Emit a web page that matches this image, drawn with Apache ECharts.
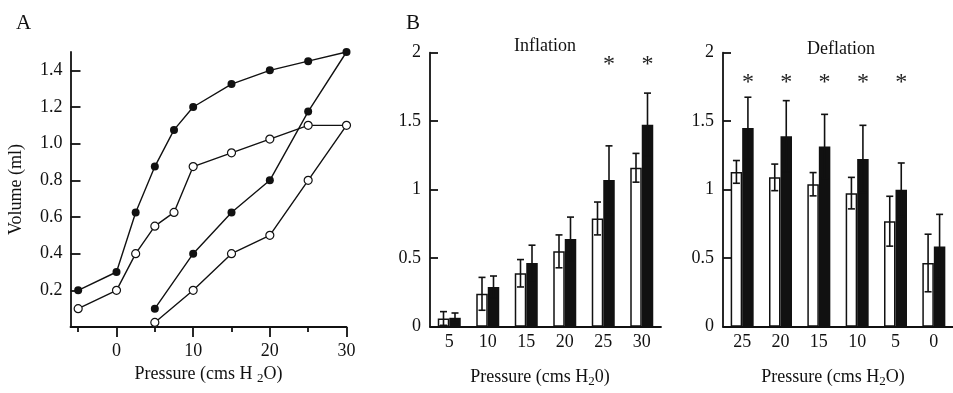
<!DOCTYPE html>
<html>
<head>
<meta charset="utf-8">
<script src="https://cdn.jsdelivr.net/npm/echarts@6/dist/echarts.min.js"></script>
<style>
  html, body { margin: 0; padding: 0; background: #fff; }
  #chart { width: 953px; height: 393px; }
</style>
</head>
<body>
<div id="chart"></div>
<script>
// Panel A: pressure-volume loops
const aPressure = [-5, 0, 2.5, 5, 7.5, 10, 15, 20, 25, 30, 25, 20, 15, 10, 5];
const aFilledVolume = [0.2, 0.3, 0.625, 0.875, 1.075, 1.2, 1.325, 1.4, 1.45, 1.5, 1.175, 0.8, 0.625, 0.4, 0.1];
const aOpenVolume = [0.1, 0.2, 0.4, 0.55, 0.625, 0.875, 0.95, 1.025, 1.1, 1.1, 0.8, 0.5, 0.4, 0.2, 0.025];
const aYTicks = [0.2, 0.4, 0.6, 0.8, 1.0, 1.2, 1.4];
const aXMajor = [0, 10, 20, 30];
const aXMinor = [-5, 5, 15, 25];

// Panel B: inflation
const inflationCats = ['5', '10', '15', '20', '25', '30'];
const inflationOpen = [0.06, 0.24, 0.39, 0.55, 0.79, 1.16];
const inflationOpenSd = [0.05, 0.12, 0.10, 0.12, 0.12, 0.105];
const inflationFilled = [0.065, 0.29, 0.465, 0.64, 1.07, 1.475];
const inflationFilledSd = [0.035, 0.08, 0.13, 0.16, 0.25, 0.23];
const inflationSig = [0, 0, 0, 0, 1, 1];

// Panel B: deflation
const deflationCats = ['25', '20', '15', '10', '5', '0'];
const deflationOpen = [1.13, 1.09, 1.04, 0.975, 0.77, 0.465];
const deflationOpenSd = [0.083, 0.097, 0.085, 0.115, 0.182, 0.21];
const deflationFilled = [1.45, 1.39, 1.315, 1.225, 1.0, 0.585];
const deflationFilledSd = [0.225, 0.26, 0.235, 0.245, 0.195, 0.235];
const deflationSig = [1, 1, 1, 1, 1, 0];

const FONT = 'Liberation Serif, DejaVu Serif, serif';
const INK = '#111';
const BAR_W = 11.5;
const CAP = 7;

const pairs = (xs, ys) => xs.map((x, i) => [x, ys[i]]);

const errRows = (open, openSd, filled, filledSd, sig) =>
    open.map((v, i) => [i, v, openSd[i], filled[i], filledSd[i], sig[i]]);

const errorBars = (starValue) => (params, api) => {
    const i = api.value(0);
    const cx = api.coord([i, 0])[0];
    const children = [];
    const bar = (x, mean, sd) => {
        const top = api.coord([i, mean + sd])[1];
        const bot = api.coord([i, mean - sd])[1];
        const st = { stroke: INK, lineWidth: 1.6 };
        children.push({ type: 'line', shape: { x1: x, y1: top, x2: x, y2: bot }, style: st });
        children.push({ type: 'line', shape: { x1: x - CAP / 2, y1: top, x2: x + CAP / 2, y2: top }, style: st });
        children.push({ type: 'line', shape: { x1: x - CAP / 2, y1: bot, x2: x + CAP / 2, y2: bot }, style: st });
    };
    bar(cx - BAR_W / 2, api.value(1), api.value(2));
    bar(cx + BAR_W / 2, api.value(3), api.value(4));
    if (api.value(5)) {
        children.push({
            type: 'text',
            style: {
                text: '*', x: cx + BAR_W / 2, y: api.coord([i, starValue])[1],
                fill: '#222', font: '24px ' + FONT, align: 'center', verticalAlign: 'middle'
            }
        });
    }
    return { type: 'group', children };
};

const axisText = { fontFamily: FONT, fontSize: 18, color: INK };
const lineStyle = { color: INK, width: 1.8 };

const bYAxis = (gridIndex) => ({
    type: 'value', gridIndex, min: 0, max: 2, interval: 0.5,
    axisLine: { show: true, onZero: false, lineStyle },
    axisTick: { show: true, inside: true, length: 8, lineStyle },
    axisLabel: Object.assign({ margin: 9 }, axisText),
    splitLine: { show: false }
});

const bXAxis = (gridIndex, cats) => ({
    type: 'category', gridIndex, data: cats,
    axisLine: { show: true, onZero: false, lineStyle },
    axisTick: { show: false },
    axisLabel: Object.assign({ margin: 7 }, axisText)
});

const bBars = (xIdx, yIdx, open, filled) => [
    {
        type: 'bar', xAxisIndex: xIdx, yAxisIndex: yIdx, data: open,
        barWidth: BAR_W, barGap: '0%',
        itemStyle: { color: '#fff', borderColor: INK, borderWidth: 1.5 }
    },
    {
        type: 'bar', xAxisIndex: xIdx, yAxisIndex: yIdx, data: filled,
        barWidth: BAR_W, barGap: '0%',
        itemStyle: { color: INK }
    }
];

const rich = {
    sub: { fontFamily: FONT, fontSize: 13, color: INK, fontWeight: 'normal', padding: [9, 0, 0, 0] }
};
const nameStyle = { fontFamily: FONT, fontSize: 18, fontWeight: 'normal', color: INK, rich };
const titleStyle = (size) => ({ fontFamily: FONT, fontSize: size, fontWeight: 'normal', color: INK });

const chart = echarts.init(document.getElementById('chart'));
chart.setOption({
    animation: false,
    backgroundColor: '#fff',
    title: [
        { text: 'A', left: 11, top: 8, textStyle: titleStyle(21) },
        { text: 'B', left: 401, top: 8, textStyle: titleStyle(21) },
        { text: 'Inflation', left: 540, top: 32, textAlign: 'center', textStyle: titleStyle(18) },
        { text: 'Deflation', left: 836, top: 35, textAlign: 'center', textStyle: titleStyle(18) },
        { text: 'Pressure (cms H{sub|2}0)', left: 535, top: 361, textAlign: 'center', textStyle: nameStyle },
        { text: 'Pressure (cms H{sub|2}O)', left: 828, top: 361, textAlign: 'center', textStyle: nameStyle }
    ],
    grid: [
        { left: 70.5, top: 52, width: 276, height: 275 },
        { left: 430, top: 52.7, width: 231, height: 274 },
        { left: 723, top: 52.7, width: 232, height: 274 }
    ],
    xAxis: [
        {
            type: 'value', gridIndex: 0, min: -6, max: 30, position: 'bottom',
            name: 'Pressure (cms H {sub|2}O)', nameLocation: 'middle', nameGap: 34, nameTextStyle: nameStyle,
            axisLine: { show: true, onZero: false, lineStyle },
            axisTick: { show: true, length: 10, customValues: aXMajor, lineStyle },
            axisLabel: Object.assign({ margin: 15, customValues: aXMajor }, axisText),
            splitLine: { show: false }
        },
        {
            type: 'value', gridIndex: 0, min: -6, max: 30, position: 'bottom', offset: 0,
            axisLine: { show: false, onZero: false },
            axisTick: { show: true, length: 5, customValues: aXMinor, lineStyle },
            axisLabel: { show: false },
            splitLine: { show: false }
        },
        bXAxis(1, inflationCats),
        bXAxis(2, deflationCats)
    ],
    yAxis: [
        {
            type: 'value', gridIndex: 0, min: 0, max: 1.5,
            name: 'Volume (ml)', nameLocation: 'middle', nameGap: 45,
            nameTextStyle: { fontFamily: FONT, fontSize: 18, color: INK },
            axisLine: { show: true, onZero: false, lineStyle },
            axisTick: { show: true, inside: true, length: 10, customValues: aYTicks, lineStyle },
            axisLabel: Object.assign({ margin: 8, customValues: aYTicks, formatter: v => v.toFixed(1) }, axisText),
            splitLine: { show: false }
        },
        bYAxis(1),
        bYAxis(2)
    ],
    series: [
        {
            type: 'line', xAxisIndex: 0, yAxisIndex: 0, data: pairs(aPressure, aFilledVolume),
            symbol: 'circle', symbolSize: 8,
            lineStyle: { color: INK, width: 1.4 },
            itemStyle: { color: INK }
        },
        {
            type: 'line', xAxisIndex: 0, yAxisIndex: 0, data: pairs(aPressure, aOpenVolume),
            symbol: 'circle', symbolSize: 8,
            lineStyle: { color: INK, width: 1.4 },
            itemStyle: { color: '#fff', borderColor: INK, borderWidth: 1.2 }
        },
        ...bBars(2, 1, inflationOpen, inflationFilled),
        ...bBars(3, 2, deflationOpen, deflationFilled),
        {
            type: 'custom', xAxisIndex: 2, yAxisIndex: 1, z: 5,
            data: errRows(inflationOpen, inflationOpenSd, inflationFilled, inflationFilledSd, inflationSig),
            renderItem: errorBars(1.91)
        },
        {
            type: 'custom', xAxisIndex: 3, yAxisIndex: 2, z: 5,
            data: errRows(deflationOpen, deflationOpenSd, deflationFilled, deflationFilledSd, deflationSig),
            renderItem: errorBars(1.78)
        }
    ]
});
</script>
</body>
</html>
